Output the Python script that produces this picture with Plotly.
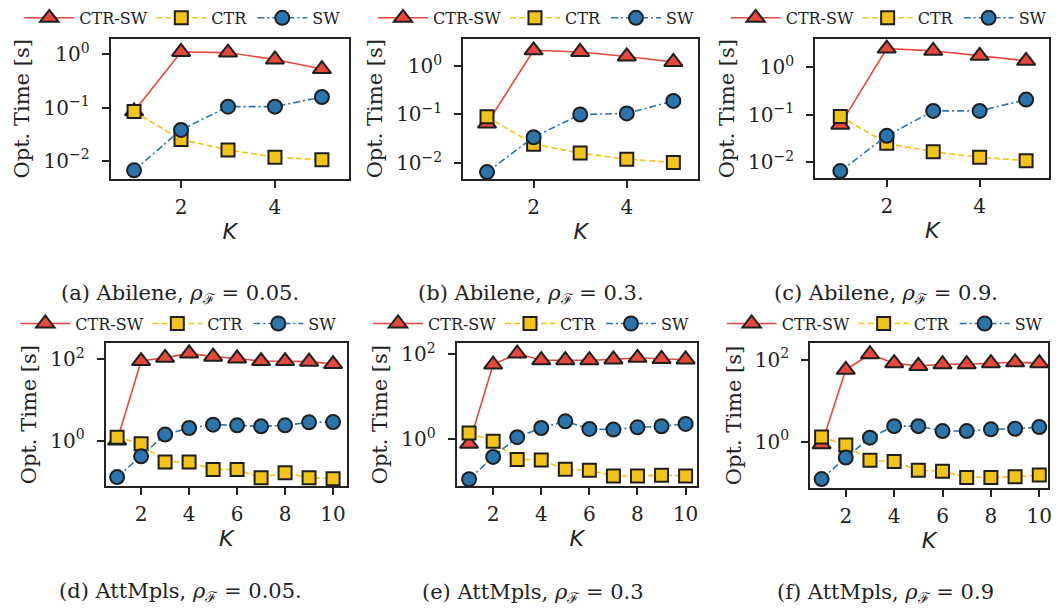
import plotly.graph_objects as go

# ---------------- data ----------------
K_small = [1, 2, 3, 4, 5]
K_large = [1, 2, 3, 4, 5, 6, 7, 8, 9, 10]

# Abilene, rho = 0.05
a_ctrsw = [0.085, 1.11, 1.08, 0.80, 0.53]
a_ctr = [0.084, 0.025, 0.016, 0.0117, 0.0104]
a_sw = [0.0066, 0.038, 0.104, 0.104, 0.158]
# Abilene, rho = 0.3
b_ctrsw = [0.065, 2.1, 1.94, 1.57, 1.21]
b_ctr = [0.09, 0.0245, 0.016, 0.012, 0.0103]
b_sw = [0.0065, 0.034, 0.10, 0.105, 0.19]
# Abilene, rho = 0.9
c_ctrsw = [0.062, 2.5, 2.24, 1.76, 1.38]
c_ctr = [0.092, 0.025, 0.0166, 0.0127, 0.0108]
c_sw = [0.0065, 0.036, 0.121, 0.121, 0.21]
# AttMpls, rho = 0.05
d_ctrsw = [1.0, 89, 107, 137, 114, 103, 89, 89, 86, 75]
d_ctr = [1.2, 0.83, 0.30, 0.30, 0.196, 0.196, 0.123, 0.162, 0.123, 0.116]
d_sw = [0.127, 0.41, 1.4, 2.03, 2.45, 2.36, 2.23, 2.36, 2.8, 2.84]
# AttMpls, rho = 0.3
e_ctrsw = [0.79, 57, 103, 72, 72, 72, 75, 82, 77, 75]
e_ctr = [1.42, 0.91, 0.34, 0.33, 0.20, 0.19, 0.14, 0.14, 0.146, 0.14]
e_sw = [0.117, 0.39, 1.13, 1.86, 2.67, 1.77, 1.71, 1.93, 2.04, 2.31]
# AttMpls, rho = 0.9
f_ctrsw = [0.86, 57, 137, 83, 71, 78, 78, 83, 87, 83]
f_ctr = [1.3, 0.83, 0.35, 0.33, 0.20, 0.19, 0.134, 0.134, 0.139, 0.153]
f_sw = [0.122, 0.41, 1.25, 2.4, 2.4, 1.82, 1.82, 2.0, 2.07, 2.27]

series_names = ["CTR-SW", "CTR", "SW"]
captions = [
    "(a) Abilene, <i>ρ</i><sub>ℱ</sub> = 0.05.",
    "(b) Abilene, <i>ρ</i><sub>ℱ</sub> = 0.3.",
    "(c) Abilene, <i>ρ</i><sub>ℱ</sub> = 0.9.",
    "(d) AttMpls, <i>ρ</i><sub>ℱ</sub> = 0.05.",
    "(e) AttMpls, <i>ρ</i><sub>ℱ</sub> = 0.3",
    "(f) AttMpls, <i>ρ</i><sub>ℱ</sub> = 0.9",
]
ytick_vals_top = [0.01, 0.1, 1]
ytick_text_top = ["10<sup>−2</sup>", "10<sup>−1</sup>", "10<sup>0</sup>"]
ytick_vals_bot = [1, 100]
ytick_text_bot = ["10<sup>0</sup>", "10<sup>2</sup>"]
xtick_top = [2, 4]
xtick_bot = [2, 4, 6, 8, 10]

# ---------------- layout / style ----------------
W, H = 1061, 612
SERIF = "DejaVu Serif"
RED, YEL, BLU, EDGE = "#E8473A", "#F2C418", "#2A75AD", "#1f1f1f"

panels = [
    dict(K=K_small, ys=[a_ctrsw, a_ctr, a_sw], box=(111, 350, 35, 176), xr=[0.5, 5.57], yr=[-2.34, 0.293], top=True, leg=(184, 14), cap=(181, 292)),
    dict(K=K_small, ys=[b_ctrsw, b_ctr, b_sw], box=(465, 700.7, 35, 175.7), xr=[0.49, 5.53], yr=[-2.32, 0.56], top=True, leg=(539, 14), cap=(533, 292)),
    dict(K=K_small, ys=[c_ctrsw, c_ctr, c_sw], box=(818.3, 1053.3, 35.7, 175), xr=[0.46, 5.5], yr=[-2.33, 0.59], top=True, leg=(893, 14), cap=(889, 292)),
    dict(K=K_large, ys=[d_ctrsw, d_ctr, d_sw], box=(106, 348.3, 341.7, 485), xr=[0.52, 10.58], yr=[-1.11, 2.38], top=False, leg=(180, 321.7), cap=(181.5, 592)),
    dict(K=K_large, ys=[e_ctrsw, e_ctr, e_sw], box=(458.3, 699.3, 341.7, 485), xr=[0.48, 10.46], yr=[-1.086, 2.25], top=False, leg=(534, 321.7), cap=(535, 593)),
    dict(K=K_large, ys=[f_ctrsw, f_ctr, f_sw], box=(813.3, 1051.7, 341.7, 486.7), xr=[0.53, 10.35], yr=[-1.12, 2.40], top=False, leg=(889, 321.7), cap=(889, 593)),
]

styles = [
    dict(color=RED, dash="solid", symbol="triangle-up", size=16, lw=67),
    dict(color=YEL, dash="6px,3px", symbol="square", size=13, lw=36),
    dict(color=BLU, dash="7px,3px,2px,3px", symbol="circle", size=14, lw=30),
]

fig = go.Figure()
layout = dict(
    width=W, height=H,
    margin=dict(l=0, r=0, t=0, b=0),
    paper_bgcolor="white", plot_bgcolor="white",
    font=dict(family=SERIF, size=20, color="#222222"),
    annotations=[],
)

for i, p in enumerate(panels):
    n = i + 1
    xa = "x" if n == 1 else f"x{n}"
    ya = "y" if n == 1 else f"y{n}"
    legname = "legend" if n == 1 else f"legend{n}"
    for name, y, st in zip(series_names, p["ys"], styles):
        fig.add_trace(go.Scatter(
            x=p["K"], y=y, name=name, mode="lines+markers",
            xaxis=xa, yaxis=ya, legend=legname, legendwidth=st["lw"],
            line=dict(color=st["color"], width=1.6, dash=st["dash"]),
            marker=dict(symbol=st["symbol"], size=st["size"], color=st["color"],
                        line=dict(color=EDGE, width=2)),
            cliponaxis=False,
        ))
    x0, x1, y0, y1 = p["box"]
    axkey_x = "xaxis" if n == 1 else f"xaxis{n}"
    axkey_y = "yaxis" if n == 1 else f"yaxis{n}"
    layout[axkey_x] = dict(
        domain=[x0 / W, x1 / W], anchor=ya, range=p["xr"],
        tickvals=xtick_top if p["top"] else xtick_bot,
        ticks="outside", ticklen=7, tickwidth=1.5, tickcolor="#222222",
        showline=True, linewidth=2, linecolor="#222222", mirror=True,
        showgrid=False, zeroline=False,
        tickfont=dict(family=SERIF, size=20, color="#222222"),
        ticklabelstandoff=2,
        title=dict(text="<i>K</i>", font=dict(family="DejaVu Sans", size=22, color="#222222"), standoff=6),
    )
    layout[axkey_y] = dict(
        domain=[1 - y1 / H, 1 - y0 / H], anchor=xa, type="log", range=p["yr"],
        tickvals=ytick_vals_top if p["top"] else ytick_vals_bot,
        ticktext=ytick_text_top if p["top"] else ytick_text_bot,
        ticks="outside", ticklen=7, tickwidth=1.5, tickcolor="#222222",
        showline=True, linewidth=2, linecolor="#222222", mirror=True,
        showgrid=False, zeroline=False,
        tickfont=dict(family=SERIF, size=20, color="#222222"),
        ticklabelstandoff=8,
        title=dict(text="Opt. Time [s]", font=dict(family=SERIF, size=21, color="#222222"), standoff=8),
    )
    lx, ly = p["leg"]
    layout[legname] = dict(
        orientation="h", x=lx / W, y=1 - ly / H, xanchor="center", yanchor="middle",
        bgcolor="rgba(0,0,0,0)", borderwidth=0,
        font=dict(family=SERIF, size=16, color="#222222"),
        tracegroupgap=0, itemsizing="trace", itemwidth=50,
    )
    cx, cy = p["cap"]
    layout["annotations"].append(dict(
        text=captions[i], x=cx / W, y=1 - cy / H, xref="paper", yref="paper",
        xanchor="center", yanchor="middle", showarrow=False,
        font=dict(family=SERIF, size=21, color="#222222"),
    ))

fig.update_layout(**layout)
fig.write_html(
    "out.html",
    config={"displayModeBar": False},
    post_script="document.body.style.margin='0';document.body.style.overflow='hidden';",
)
